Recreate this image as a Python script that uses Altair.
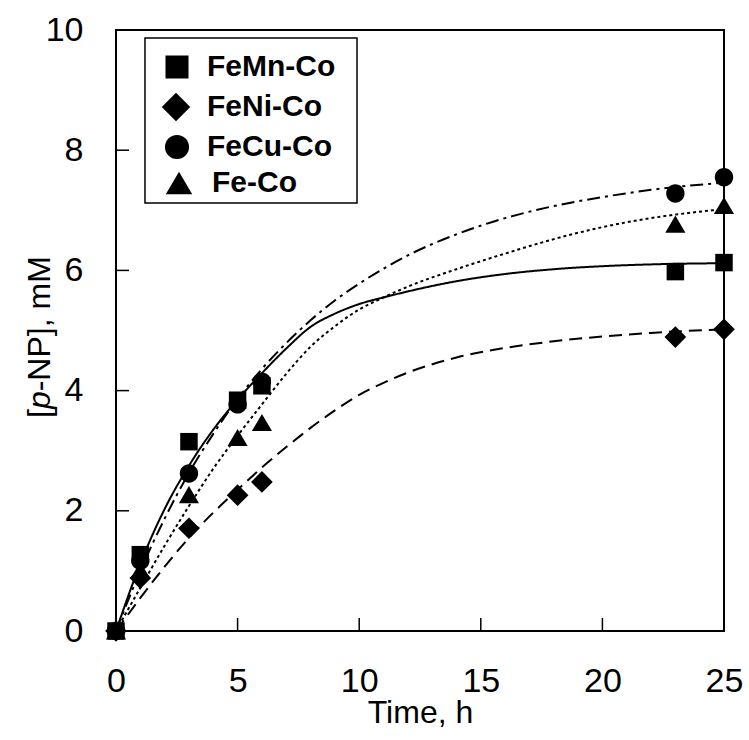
import altair as alt
import pandas as pd

FONT = "Liberation Sans"

series = ["FeMn-Co", "FeNi-Co", "FeCu-Co", "Fe-Co"]
# marker outlines (unit paths, scaled by the mark size)
shapes = [
    "M-1,-1L1,-1L1,1L-1,1Z",
    "M-1.24,0L0,-1.24L1.24,0L0,1.24Z",
    "M1.05,0A1.05,1.05,0,1,1,-1.05,0A1.05,1.05,0,1,1,1.05,0Z",
    "M0,-0.98L1.15,0.98L-1.15,0.98Z",
]

# measured points
t_obs = [0, 1, 3, 5, 6, 23, 25]
femn_obs = [0, 1.27, 3.15, 3.84, 4.08, 5.98, 6.13]
feni_obs = [0, 0.88, 1.71, 2.26, 2.48, 4.89, 5.02]
fecu_obs = [0, 1.17, 2.62, 3.77, 4.15, 7.28, 7.55]
feco_obs = [0, 1.01, 2.27, 3.22, 3.47, 6.77, 7.08]

# fitted curves
t_fit = [0, 1, 2, 3, 4, 5, 6, 7, 8, 9, 10, 11, 12, 14, 16, 18, 20, 22, 25]
femn_fit = [0, 1.12, 2.03, 2.75, 3.35, 3.85, 4.29, 4.70, 5.06, 5.28, 5.44, 5.55, 5.65, 5.82, 5.94, 6.02, 6.07, 6.10, 6.12]
feni_fit = [0, 0.55, 1.07, 1.55, 1.97, 2.35, 2.72, 3.06, 3.38, 3.67, 3.93, 4.13, 4.30, 4.55, 4.71, 4.82, 4.90, 4.96, 5.02]
fecu_fit = [0, 1.00, 1.87, 2.63, 3.28, 3.86, 4.36, 4.79, 5.17, 5.50, 5.78, 6.03, 6.25, 6.60, 6.87, 7.07, 7.22, 7.34, 7.46]
feco_fit = [0, 0.72, 1.42, 2.08, 2.70, 3.25, 3.77, 4.28, 4.73, 5.07, 5.35, 5.55, 5.73, 6.02, 6.28, 6.52, 6.72, 6.87, 7.02]

x_tick_vals = [5, 10, 15, 20]
y_tick_vals = [2, 4, 6, 8]
x_label_vals = [0, 5, 10, 15, 20, 25]
y_label_vals = [0, 2, 4, 6, 8, 10]

W, H = 608, 601
TICK_PX = 13

obs_rows = []
for name, vals in zip(series, [femn_obs, feni_obs, fecu_obs, feco_obs]):
    for t, v in zip(t_obs, vals):
        obs_rows.append({"series": name, "t": t, "c": v})
obs = pd.DataFrame(obs_rows)

fit_rows = []
for name, vals in zip(series, [femn_fit, feni_fit, fecu_fit, feco_fit]):
    for t, v in zip(t_fit, vals):
        fit_rows.append({"curve": name, "t": t, "c": v})
fit = pd.DataFrame(fit_rows)

xt = pd.DataFrame({"t": x_tick_vals, "c": [0] * len(x_tick_vals)})
yt = pd.DataFrame({"t": [0] * len(y_tick_vals), "c": y_tick_vals})

x_scale = alt.Scale(domain=[0, 25], nice=False, zero=False)
y_scale = alt.Scale(domain=[0, 10], nice=False)

x_axis = alt.Axis(values=x_label_vals, format="d", ticks=False, grid=False, domain=False,
                  labelFont=FONT, labelFontSize=34, labelColor="black",
                  labelPadding=33, labelFlush=False,
                  title="Time, h", titleFont=FONT, titleFontSize=32,
                  titleFontWeight="normal", titleColor="black",
                  titleBaseline="alphabetic", titleY=91)
y_axis = alt.Axis(values=y_label_vals, format="d", ticks=False, grid=False, domain=False,
                  labelFont=FONT, labelFontSize=34, labelColor="black",
                  labelPadding=33, labelFlush=False, title=None)

lines = alt.Chart(fit).mark_line(color="black", interpolate="monotone").encode(
    x=alt.X("t:Q", scale=x_scale, axis=x_axis),
    y=alt.Y("c:Q", scale=y_scale, axis=y_axis),
    detail="curve:N",
    strokeDash=alt.StrokeDash("curve:N", scale=alt.Scale(
        domain=series, range=[[1, 0], [13, 7], [13, 5, 3, 5], [3, 3]]), legend=None),
    strokeWidth=alt.StrokeWidth("curve:N", scale=alt.Scale(
        domain=series, range=[2, 2, 2, 3]), legend=None),
)

points = alt.Chart(obs).mark_point(filled=True, color="black", opacity=1, size=306).encode(
    x=alt.X("t:Q", scale=x_scale),
    y=alt.Y("c:Q", scale=y_scale),
    shape=alt.Shape("series:N", scale=alt.Scale(domain=series, range=shapes), legend=None),
)

# inward tick marks drawn as open-path symbols (length TICK_PX)
xticks = alt.Chart(xt).mark_point(shape="M0,0L0,-2", size=TICK_PX ** 2, filled=False,
                                  color="black", stroke="black", strokeWidth=1.5,
                                  opacity=1).encode(
    x=alt.X("t:Q", scale=x_scale), y=alt.Y("c:Q", scale=y_scale))
yticks = alt.Chart(yt).mark_point(shape="M0,0L2,0", size=TICK_PX ** 2, filled=False,
                                  color="black", stroke="black", strokeWidth=1.5,
                                  opacity=1).encode(
    x=alt.X("t:Q", scale=x_scale), y=alt.Y("c:Q", scale=y_scale))

one = alt.InlineData(values=[{"k": 1}])

# y-axis title with italic p
title_parts = []
for txt, ystart, style in [("[", 388, "normal"), ("p", 379.1, "italic"), ("-NP], mM", 361.3, "normal")]:
    title_parts.append(
        alt.Chart(one).mark_text(text=txt, font=FONT, fontSize=32, fontStyle=style,
                                 angle=270, align="left", baseline="alphabetic",
                                 color="black").encode(x=alt.value(-66), y=alt.value(ystart))
    )

# legend (box, symbols, labels)
legend_box = alt.Chart(one).mark_point(
    shape="M-1.285,-1L1.285,-1L1.285,1L-1.285,1Z", size=165 ** 2, filled=True,
    fill="white", stroke="black", strokeWidth=1.5, opacity=1).encode(
    x=alt.value(135), y=alt.value(90.5))
legend_parts = [legend_box]
for name, shp, yc, xs, xt_ in zip(series, shapes, [37, 77, 117, 153], [61, 60, 61, 63], [91, 91, 91, 96]):
    legend_parts.append(
        alt.Chart(one).mark_point(shape=shp, size=529, filled=True, color="black",
                                  opacity=1).encode(x=alt.value(xs), y=alt.value(yc)))
    legend_parts.append(
        alt.Chart(one).mark_text(text=name, font=FONT, fontSize=30, fontWeight="bold",
                                 align="left", baseline="middle", color="black").encode(
            x=alt.value(xt_), y=alt.value(yc)))

chart = alt.layer(lines, points, xticks, yticks, *title_parts, *legend_parts).properties(
    width=W, height=H,
    padding={"left": 116, "top": 30, "right": 25, "bottom": 109},
    autosize=alt.AutoSizeParams(type="none"),
    background="white",
).configure_view(stroke="black", strokeWidth=2)

chart.save("out.html", embed_options={"renderer": "svg", "actions": False})
